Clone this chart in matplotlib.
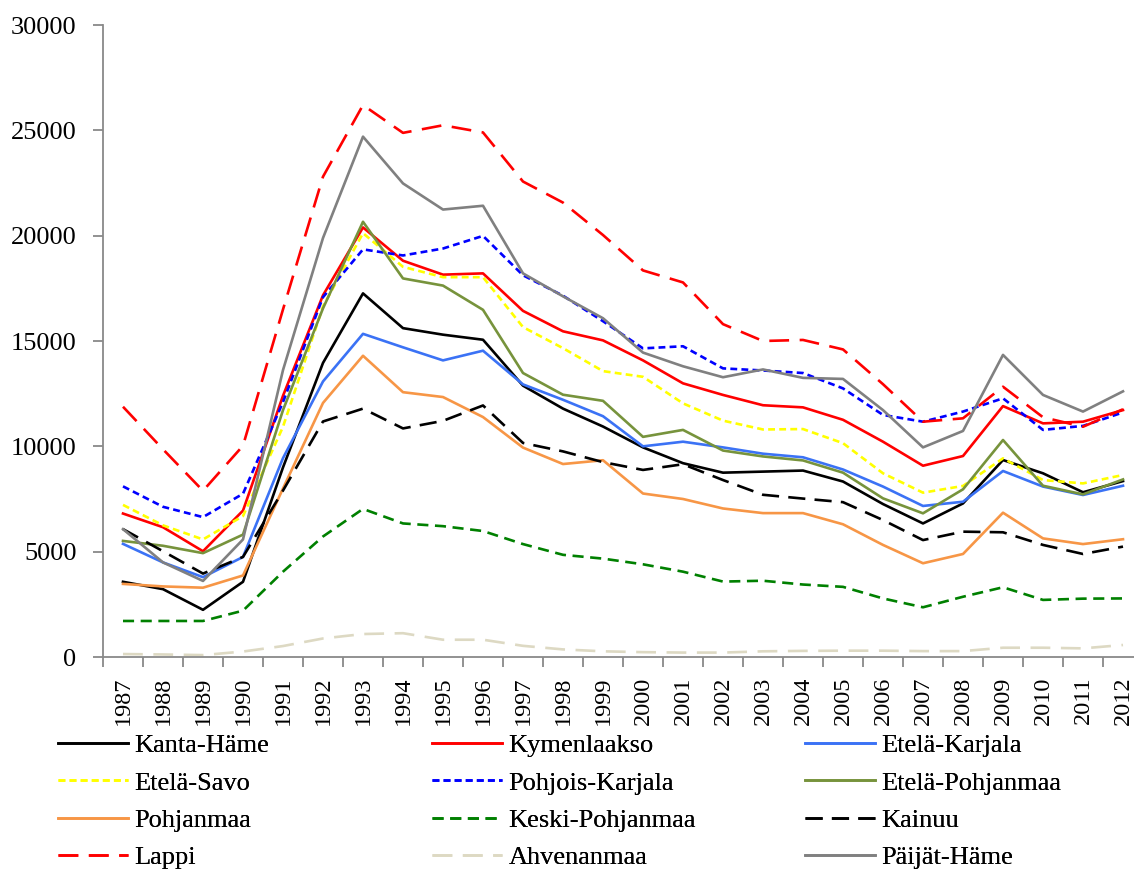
import matplotlib.pyplot as plt
import numpy as np

plt.rcParams['font.family'] = ['Liberation Serif', 'DejaVu Serif']

years = list(range(1987, 2013))

kanta_hame = [3570, 3220, 2240, 3570, 9000, 13960, 17260, 15610, 15300, 15060, 12880, 11790, 10940,
              9950, 9200, 8750, 8800, 8850, 8330, 7260, 6340, 7290, 9350, 8720, 7820, 8350]
kymenlaakso = [6810, 6160, 5020, 6950, 12400, 17170, 20390, 18810, 18150, 18210, 16430, 15460, 15030,
               14080, 12990, 12440, 11950, 11850, 11260, 10220, 9080, 9540, 11910, 11090, 11170, 11720]
etela_karjala = [5370, 4490, 3790, 4750, 9440, 13080, 15340, 14700, 14080, 14540, 12940, 12210, 11430,
                 10000, 10220, 9950, 9650, 9480, 8900, 8090, 7170, 7370, 8830, 8090, 7690, 8130]
etela_savo = [7220, 6250, 5580, 6690, 10930, 16640, 20120, 18520, 18030, 18030, 15660, 14660, 13570,
              13300, 12040, 11220, 10800, 10820, 10150, 8720, 7800, 8120, 9430, 8400, 8240, 8640]
pohjois_karjala = [8100, 7130, 6640, 7750, 12100, 17080, 19350, 19060, 19390, 19990, 18120, 17150, 15940,
                   14650, 14750, 13700, 13600, 13480, 12750, 11490, 11170, 11650, 12280, 10780, 10970, 11610]
etela_pohjanmaa = [5510, 5280, 4930, 5810, 11720, 16550, 20660, 17970, 17630, 16480, 13480, 12450, 12160,
                   10450, 10780, 9800, 9520, 9330, 8750, 7530, 6820, 7960, 10300, 8130, 7720, 8430]
pohjanmaa = [3470, 3350, 3290, 3870, 8000, 12060, 14300, 12570, 12340, 11390, 9940, 9160, 9340,
             7760, 7500, 7050, 6830, 6830, 6300, 5320, 4450, 4890, 6850, 5630, 5360, 5590]
keski_pohjanmaa = [1710, 1710, 1710, 2200, 4050, 5720, 7030, 6340, 6210, 5980, 5360, 4850, 4670,
                   4400, 4050, 3580, 3620, 3440, 3330, 2780, 2360, 2860, 3310, 2710, 2770, 2780]
kainuu = [6070, 5020, 3960, 4750, 7900, 11180, 11790, 10850, 11210, 11940, 10160, 9760, 9250,
          8880, 9150, 8400, 7700, 7520, 7350, 6500, 5550, 5950, 5920, 5320, 4890, 5240]
lappi = [11880, 9860, 7890, 10030, 16500, 22800, 26200, 24880, 25240, 24900, 22570, 21570, 20030,
         18350, 17780, 15800, 15000, 15050, 14600, 12950, 11170, 11330, 12830, 11380, 10930, 11760]
ahvenanmaa = [140, 120, 90, 260, 520, 880, 1090, 1130, 820, 820, 530, 360, 270,
              230, 210, 210, 270, 290, 300, 300, 280, 280, 440, 440, 410, 570]
paijat_hame = [6070, 4490, 3610, 5580, 13620, 19890, 24700, 22480, 21240, 21420, 18210, 17120, 16080,
               14450, 13800, 13280, 13650, 13250, 13200, 11720, 9950, 10730, 14340, 12440, 11650, 12610]

series = [
    ('Kanta-Häme', kanta_hame, 'black', '-'),
    ('Kymenlaakso', kymenlaakso, '#ff0000', '-'),
    ('Etelä-Karjala', etela_karjala, '#3b72f5', '-'),
    ('Etelä-Savo', etela_savo, '#ffff00', (0, (2.6, 1.6))),
    ('Pohjois-Karjala', pohjois_karjala, '#0000ff', (0, (2.6, 1.6))),
    ('Etelä-Pohjanmaa', etela_pohjanmaa, '#77933c', '-'),
    ('Pohjanmaa', pohjanmaa, '#f79646', '-'),
    ('Keski-Pohjanmaa', keski_pohjanmaa, '#008000', (0, (4.2, 2.5))),
    ('Kainuu', kainuu, 'black', (0, (6.5, 3.5))),
    ('Lappi', lappi, '#ff0000', (0, (7.5, 4))),
    ('Ahvenanmaa', ahvenanmaa, '#ddd9c3', (0, (7.5, 4))),
    ('Päijät-Häme', paijat_hame, '#808080', '-'),
]

fig = plt.figure(figsize=(11.34, 8.71), dpi=100)
ax = fig.add_axes([103 / 1134, (871 - 657) / 871, 1040 / 1134, (657 - 25) / 871])

x = np.arange(len(years))
handles = []
for name, vals, col, ls in series:
    h, = ax.plot(x, vals, color=col, linestyle=ls, linewidth=1.9, label=name)
    handles.append(h)

ax.set_xlim(-0.5, len(years) - 0.5)
ax.set_ylim(0, 30000)
ax.set_yticks(range(0, 30001, 5000))
ax.set_xticks(x)
ax.set_xticklabels([str(y) for y in years], rotation=90)
ax.set_xticks(np.arange(-0.5, len(years), 1), minor=True)
ax.tick_params(axis='x', which='major', length=0, pad=14, labelsize=17.5)
ax.tick_params(axis='x', which='minor', length=7, color='#898989', width=1.3)
ax.tick_params(axis='y', length=7, color='#898989', width=1.3, labelsize=19, pad=12)

for s in ['top', 'right']:
    ax.spines[s].set_visible(False)
for s in ['left', 'bottom']:
    ax.spines[s].set_color('#898989')
    ax.spines[s].set_linewidth(1.3)

# legend: three columns placed separately, row-major order like the original
col_x = [58 / 1134, 432 / 1134, 805 / 1134]
for c in range(3):
    hs = [handles[r * 3 + c] for r in range(4)]
    leg = fig.legend(handles=hs, labels=[h.get_label() for h in hs], loc='upper left',
                     bbox_to_anchor=(col_x[c], (871 - 734) / 871), frameon=False,
                     fontsize=19, handlelength=2.65, handletextpad=0.25,
                     labelspacing=0.52, borderpad=0, borderaxespad=0)
    fig.add_artist(leg)

fig.savefig('out.png', dpi=100)
